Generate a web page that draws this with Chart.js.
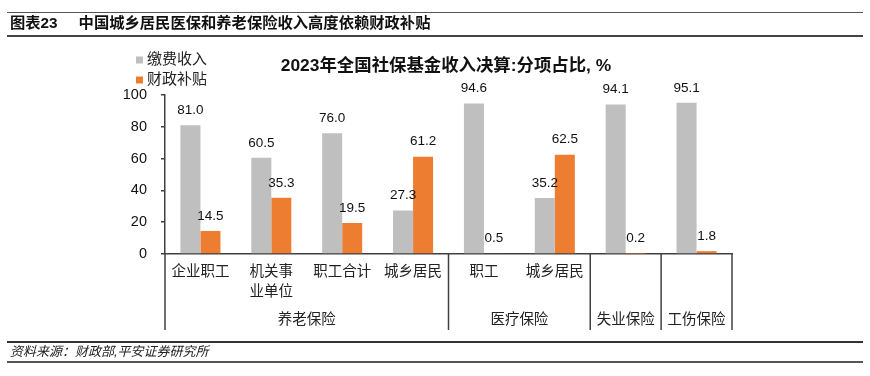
<!DOCTYPE html>
<html>
<head>
<meta charset="utf-8">
<script src="https://cdn.jsdelivr.net/npm/chart.js@4.4.1/dist/chart.umd.min.js"></script>
<style>
  html, body { margin: 0; padding: 0; background: #fff; }
  body { width: 870px; height: 376px; position: relative; overflow: hidden;
         font-family: "Liberation Sans", "Noto Sans CJK SC", sans-serif; }
  #wrap { position: absolute; left: 0; top: 0; width: 870px; height: 376px; }
  .rule { position: absolute; left: 7px; width: 856px; }
  .hdr { position: absolute; left: 10px; top: 12px; font-size: 15.3px; font-weight: bold; color: #111; line-height: 22px; white-space: nowrap; }
  .hdr span { margin-left: 21px; }
  .src { position: absolute; left: 10px; top: 343px; font-size: 13px; font-style: italic; color: #222; line-height: 18px; white-space: nowrap; }
</style>
</head>
<body>
<div id="wrap"><canvas id="chart" width="870" height="376"></canvas></div>
<div class="rule" style="top:12px;height:1px;background:#555;"></div>
<div class="hdr">图表23<span>中国城乡居民医保和养老保险收入高度依赖财政补贴</span></div>
<div class="rule" style="top:35px;height:2px;background:#444;"></div>
<div class="rule" style="top:341px;height:1.5px;background:#333;"></div>
<div class="src">资料来源：财政部,平安证券研究所</div>
<div class="rule" style="top:361px;height:2px;background:#555;"></div>
<script>
const categories = [['企业职工'], ['机关事', '业单位'], ['职工合计'], ['城乡居民'], ['职工'], ['城乡居民'], '', ''];
const groups = [
  { name: '养老保险', from: 0, to: 3 },
  { name: '医疗保险', from: 4, to: 5 },
  { name: '失业保险', from: 6, to: 6 },
  { name: '工伤保险', from: 7, to: 7 }
];
const contribution = [81.0, 60.5, 76.0, 27.3, 94.6, 35.2, 94.1, 95.1];
const subsidy = [14.5, 35.3, 19.5, 61.2, 0.5, 62.5, 0.2, 1.8];
const seriesNames = ['缴费收入', '财政补贴'];
const yTicks = [0, 20, 40, 60, 80, 100];
const chartTitle = '2023年全国社保基金收入决算:分项占比, %';

const colors = ['#BFBFBF', '#ED7D31'];
const fontFamily = '"Liberation Sans", "Noto Sans CJK SC", sans-serif';
const axisColor = '#404040';
const groupBottom = 330;

const extras = {
  id: 'extras',
  afterDraw(chart) {
    const ctx = chart.ctx;
    const area = chart.chartArea;
    const x = chart.scales.x;
    const step = x.getPixelForValue(1) - x.getPixelForValue(0);
    ctx.save();

    // value labels
    ctx.font = '13.5px ' + fontFamily;
    ctx.fillStyle = '#111';
    ctx.textAlign = 'center';
    ctx.textBaseline = 'middle';
    chart.data.datasets.forEach((ds, i) => {
      chart.getDatasetMeta(i).data.forEach((bar, j) => {
        ctx.fillText(ds.data[j].toFixed(1), bar.x, bar.y - 15);
      });
    });

    // title
    ctx.font = 'bold 17.4px ' + fontFamily;
    ctx.fillText(chartTitle, 446, 66);

    // legend
    ctx.font = '15px ' + fontFamily;
    ctx.textAlign = 'left';
    seriesNames.forEach((name, i) => {
      const cy = 60 + i * 20;
      ctx.fillStyle = colors[i];
      ctx.fillRect(136, cy - 3.5, 7, 7);
      ctx.fillStyle = '#222';
      ctx.fillText(name, 147, cy);
    });

    // group dividers and labels
    ctx.strokeStyle = axisColor;
    ctx.lineWidth = 1.5;
    const edges = [area.left];
    groups.forEach(g => edges.push(x.getPixelForValue(g.to) + step / 2));
    edges.forEach(ex => {
      ctx.beginPath();
      ctx.moveTo(ex, area.bottom);
      ctx.lineTo(ex, groupBottom);
      ctx.stroke();
    });
    ctx.font = '14.5px ' + fontFamily;
    ctx.fillStyle = '#222';
    ctx.textAlign = 'center';
    groups.forEach(g => {
      const cx = (x.getPixelForValue(g.from) + x.getPixelForValue(g.to)) / 2;
      ctx.fillText(g.name, cx, 320);
    });
    ctx.restore();
  }
};

new Chart(document.getElementById('chart'), {
  type: 'bar',
  data: {
    labels: categories,
    datasets: [
      { label: seriesNames[0], data: contribution, backgroundColor: colors[0] },
      { label: seriesNames[1], data: subsidy, backgroundColor: colors[1] }
    ]
  },
  options: {
    responsive: false,
    animation: false,
    events: [],
    categoryPercentage: 0.565,
    barPercentage: 1,
    layout: { padding: { left: 0, right: 138, top: 95, bottom: 0 } },
    plugins: {
      legend: { display: false },
      title: { display: false },
      tooltip: { enabled: false }
    },
    scales: {
      x: {
        afterFit: s => { s.height = 122; },
        grid: { display: false, drawTicks: false },
        border: { display: true, color: axisColor, width: 1.5 },
        ticks: {
          autoSkip: false, maxRotation: 0, padding: 8, color: '#222',
          font: { size: 14.5, family: fontFamily, lineHeight: 1.38 }
        }
      },
      y: {
        min: 0, max: 100,
        afterFit: s => { s.width = 165; },
        afterBuildTicks: s => { s.ticks = yTicks.map(v => ({ value: v })); },
        grid: { drawOnChartArea: false, tickLength: 4, color: axisColor, lineWidth: 1.5 },
        border: { display: true, color: axisColor, width: 1.5 },
        ticks: { padding: 14, color: '#111', font: { size: 14.5, family: fontFamily } }
      }
    }
  },
  plugins: [extras]
});
</script>
</body>
</html>
